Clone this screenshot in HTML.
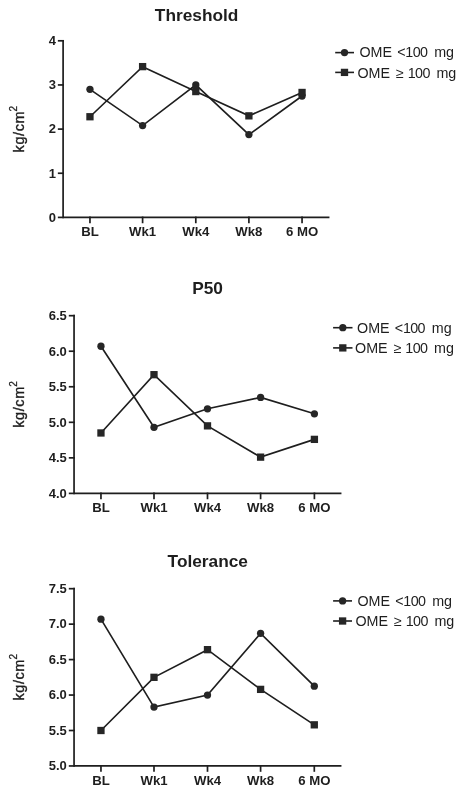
<!DOCTYPE html>
<html><head><meta charset="utf-8"><title>Threshold, P50 and Tolerance</title>
<style>
html,body{margin:0;padding:0;background:#fff;}
body{width:463px;height:796px;overflow:hidden;}
svg{display:block;}
text{font-family:"Liberation Sans", Arial, Helvetica, sans-serif;fill:#1e1e1e;}
.ax{fill:none;stroke:#1e1e1e;stroke-width:1.7;stroke-linecap:square;}
.dl{fill:none;stroke:#1e1e1e;stroke-width:1.65;stroke-linejoin:miter;}
.mk{fill:#262626;stroke:none;}
.yt{font-size:13px;font-weight:bold;text-anchor:end;}
.xt{font-size:13.2px;font-weight:bold;text-anchor:middle;}
.ti{font-size:17.3px;font-weight:bold;text-anchor:middle;}
.yl{font-size:14.5px;letter-spacing:0.6px;stroke:#1e1e1e;stroke-width:0.35px;}
.sup{font-size:10px;stroke:#1e1e1e;stroke-width:0.25px;}
.lg{font-size:14.3px;}
</style></head><body>
<svg width="463" height="796" viewBox="0 0 463 796">
<rect width="463" height="796" fill="#fff"/>
<path d="M63.1 40.8V217.4H328.6" class="ax"/>
<path d="M58.7 217.4H63.1" class="ax"/>
<text x="55.9" y="221.75" class="yt">0</text>
<path d="M58.7 173.25H63.1" class="ax"/>
<text x="55.9" y="177.6" class="yt">1</text>
<path d="M58.7 129.1H63.1" class="ax"/>
<text x="55.9" y="133.45" class="yt">2</text>
<path d="M58.7 84.95H63.1" class="ax"/>
<text x="55.9" y="89.3" class="yt">3</text>
<path d="M58.7 40.8H63.1" class="ax"/>
<text x="55.9" y="45.15" class="yt">4</text>
<path d="M89.96 217.4V222.4" class="ax"/>
<text x="89.96" y="236.1" class="xt">BL</text>
<path d="M142.6 217.4V222.4" class="ax"/>
<text x="142.6" y="236.1" class="xt">Wk1</text>
<path d="M195.8 217.4V222.4" class="ax"/>
<text x="195.8" y="236.1" class="xt">Wk4</text>
<path d="M248.9 217.4V222.4" class="ax"/>
<text x="248.9" y="236.1" class="xt">Wk8</text>
<path d="M302.06 217.4V222.4" class="ax"/>
<text x="302.06" y="236.1" class="xt">6 MO</text>
<text x="196.6" y="21" class="ti">Threshold</text>
<text transform="translate(23.8 152.4) rotate(-90)" class="yl">kg/cm</text>
<text transform="translate(17.4 111.4) rotate(-90)" class="sup">2</text>
<polyline class="dl" points="89.96,89.36 142.6,125.57 195.8,84.95 248.9,134.62 302.06,95.99"/>
<polyline class="dl" points="89.96,116.74 142.6,66.63 195.8,91.57 248.9,115.86 302.06,92.46"/>
<circle cx="89.96" cy="89.36" r="3.65" class="mk"/>
<circle cx="142.6" cy="125.57" r="3.65" class="mk"/>
<circle cx="195.8" cy="84.95" r="3.65" class="mk"/>
<circle cx="248.9" cy="134.62" r="3.65" class="mk"/>
<circle cx="302.06" cy="95.99" r="3.65" class="mk"/>
<rect x="86.31" y="113.09" width="7.3" height="7.3" class="mk"/>
<rect x="138.95" y="62.98" width="7.3" height="7.3" class="mk"/>
<rect x="192.15" y="87.92" width="7.3" height="7.3" class="mk"/>
<rect x="245.25" y="112.2" width="7.3" height="7.3" class="mk"/>
<rect x="298.41" y="88.81" width="7.3" height="7.3" class="mk"/>
<path d="M335.2 52.6H354" class="dl" style="stroke-width:1.6"/>
<circle cx="344.5" cy="52.6" r="3.65" class="mk"/>
<text x="359.5" y="57" class="lg">OME</text>
<text x="397.15" y="57" class="lg">&lt;</text>
<text x="405.3" y="57" class="lg" letter-spacing="-0.6">100</text>
<text x="434.15" y="57" class="lg">mg</text>
<path d="M335.2 72.4H354" class="dl" style="stroke-width:1.6"/>
<rect x="340.85" y="68.75" width="7.3" height="7.3" class="mk"/>
<text x="357.5" y="77.8" class="lg">OME</text>
<text x="396.1" y="77.8" class="lg">≥</text>
<text x="407.7" y="77.8" class="lg" letter-spacing="-0.6">100</text>
<text x="436.4" y="77.8" class="lg">mg</text>
<path d="M74.05 315.68V493.39H340.6" class="ax"/>
<path d="M69.65 493.39H74.05" class="ax"/>
<text x="66.85" y="497.74" class="yt">4.0</text>
<path d="M69.65 457.85H74.05" class="ax"/>
<text x="66.85" y="462.2" class="yt">4.5</text>
<path d="M69.65 422.31H74.05" class="ax"/>
<text x="66.85" y="426.66" class="yt">5.0</text>
<path d="M69.65 386.76H74.05" class="ax"/>
<text x="66.85" y="391.11" class="yt">5.5</text>
<path d="M69.65 351.22H74.05" class="ax"/>
<text x="66.85" y="355.57" class="yt">6.0</text>
<path d="M69.65 315.68H74.05" class="ax"/>
<text x="66.85" y="320.03" class="yt">6.5</text>
<path d="M100.96 493.39V498.39" class="ax"/>
<text x="100.96" y="512.3" class="xt">BL</text>
<path d="M154 493.39V498.39" class="ax"/>
<text x="154" y="512.3" class="xt">Wk1</text>
<path d="M207.5 493.39V498.39" class="ax"/>
<text x="207.5" y="512.3" class="xt">Wk4</text>
<path d="M260.6 493.39V498.39" class="ax"/>
<text x="260.6" y="512.3" class="xt">Wk8</text>
<path d="M314.4 493.39V498.39" class="ax"/>
<text x="314.4" y="512.3" class="xt">6 MO</text>
<text x="207.6" y="294.2" class="ti">P50</text>
<text transform="translate(23.5 427.83) rotate(-90)" class="yl">kg/cm</text>
<text transform="translate(17.1 386.83) rotate(-90)" class="sup">2</text>
<polyline class="dl" points="100.96,346.25 154,427.28 207.5,408.8 260.6,397.43 314.4,413.78"/>
<polyline class="dl" points="100.96,432.97 154,374.68 207.5,425.86 260.6,457.14 314.4,439.37"/>
<circle cx="100.96" cy="346.25" r="3.65" class="mk"/>
<circle cx="154" cy="427.28" r="3.65" class="mk"/>
<circle cx="207.5" cy="408.8" r="3.65" class="mk"/>
<circle cx="260.6" cy="397.43" r="3.65" class="mk"/>
<circle cx="314.4" cy="413.78" r="3.65" class="mk"/>
<rect x="97.31" y="429.32" width="7.3" height="7.3" class="mk"/>
<rect x="150.35" y="371.03" width="7.3" height="7.3" class="mk"/>
<rect x="203.85" y="422.21" width="7.3" height="7.3" class="mk"/>
<rect x="256.95" y="453.49" width="7.3" height="7.3" class="mk"/>
<rect x="310.75" y="435.72" width="7.3" height="7.3" class="mk"/>
<path d="M333.1 327.7H352.5" class="dl" style="stroke-width:1.6"/>
<circle cx="342.8" cy="327.7" r="3.65" class="mk"/>
<text x="357.1" y="332.8" class="lg">OME</text>
<text x="394.75" y="332.8" class="lg">&lt;</text>
<text x="402.9" y="332.8" class="lg" letter-spacing="-0.6">100</text>
<text x="431.75" y="332.8" class="lg">mg</text>
<path d="M333.1 347.9H352.5" class="dl" style="stroke-width:1.6"/>
<rect x="339.15" y="344.25" width="7.3" height="7.3" class="mk"/>
<text x="355.1" y="352.8" class="lg">OME</text>
<text x="393.7" y="352.8" class="lg">≥</text>
<text x="405.3" y="352.8" class="lg" letter-spacing="-0.6">100</text>
<text x="434" y="352.8" class="lg">mg</text>
<path d="M74.05 588.68V765.96H340.6" class="ax"/>
<path d="M69.65 765.96H74.05" class="ax"/>
<text x="66.85" y="770.31" class="yt">5.0</text>
<path d="M69.65 730.5H74.05" class="ax"/>
<text x="66.85" y="734.85" class="yt">5.5</text>
<path d="M69.65 695.05H74.05" class="ax"/>
<text x="66.85" y="699.4" class="yt">6.0</text>
<path d="M69.65 659.59H74.05" class="ax"/>
<text x="66.85" y="663.94" class="yt">6.5</text>
<path d="M69.65 624.14H74.05" class="ax"/>
<text x="66.85" y="628.49" class="yt">7.0</text>
<path d="M69.65 588.68H74.05" class="ax"/>
<text x="66.85" y="593.03" class="yt">7.5</text>
<path d="M100.96 765.96V770.96" class="ax"/>
<text x="100.96" y="785.3" class="xt">BL</text>
<path d="M154 765.96V770.96" class="ax"/>
<text x="154" y="785.3" class="xt">Wk1</text>
<path d="M207.5 765.96V770.96" class="ax"/>
<text x="207.5" y="785.3" class="xt">Wk4</text>
<path d="M260.6 765.96V770.96" class="ax"/>
<text x="260.6" y="785.3" class="xt">Wk8</text>
<path d="M314.3 765.96V770.96" class="ax"/>
<text x="314.3" y="785.3" class="xt">6 MO</text>
<text x="207.8" y="567" class="ti">Tolerance</text>
<text transform="translate(23.5 700.62) rotate(-90)" class="yl">kg/cm</text>
<text transform="translate(17.1 659.62) rotate(-90)" class="sup">2</text>
<polyline class="dl" points="100.96,619.17 154,707.1 207.5,695.05 260.6,633.35 314.3,686.18"/>
<polyline class="dl" points="100.96,730.5 154,677.32 207.5,649.66 260.6,689.38 314.3,724.83"/>
<circle cx="100.96" cy="619.17" r="3.65" class="mk"/>
<circle cx="154" cy="707.1" r="3.65" class="mk"/>
<circle cx="207.5" cy="695.05" r="3.65" class="mk"/>
<circle cx="260.6" cy="633.35" r="3.65" class="mk"/>
<circle cx="314.3" cy="686.18" r="3.65" class="mk"/>
<rect x="97.31" y="726.85" width="7.3" height="7.3" class="mk"/>
<rect x="150.35" y="673.67" width="7.3" height="7.3" class="mk"/>
<rect x="203.85" y="646.01" width="7.3" height="7.3" class="mk"/>
<rect x="256.95" y="685.73" width="7.3" height="7.3" class="mk"/>
<rect x="310.65" y="721.18" width="7.3" height="7.3" class="mk"/>
<path d="M333.1 600.9H352" class="dl" style="stroke-width:1.6"/>
<circle cx="342.6" cy="600.9" r="3.65" class="mk"/>
<text x="357.5" y="605.9" class="lg">OME</text>
<text x="395.15" y="605.9" class="lg">&lt;</text>
<text x="403.3" y="605.9" class="lg" letter-spacing="-0.6">100</text>
<text x="432.15" y="605.9" class="lg">mg</text>
<path d="M333.1 621H352" class="dl" style="stroke-width:1.6"/>
<rect x="338.95" y="617.35" width="7.3" height="7.3" class="mk"/>
<text x="355.5" y="626.3" class="lg">OME</text>
<text x="394.1" y="626.3" class="lg">≥</text>
<text x="405.7" y="626.3" class="lg" letter-spacing="-0.6">100</text>
<text x="434.4" y="626.3" class="lg">mg</text>
</svg>
</body></html>
